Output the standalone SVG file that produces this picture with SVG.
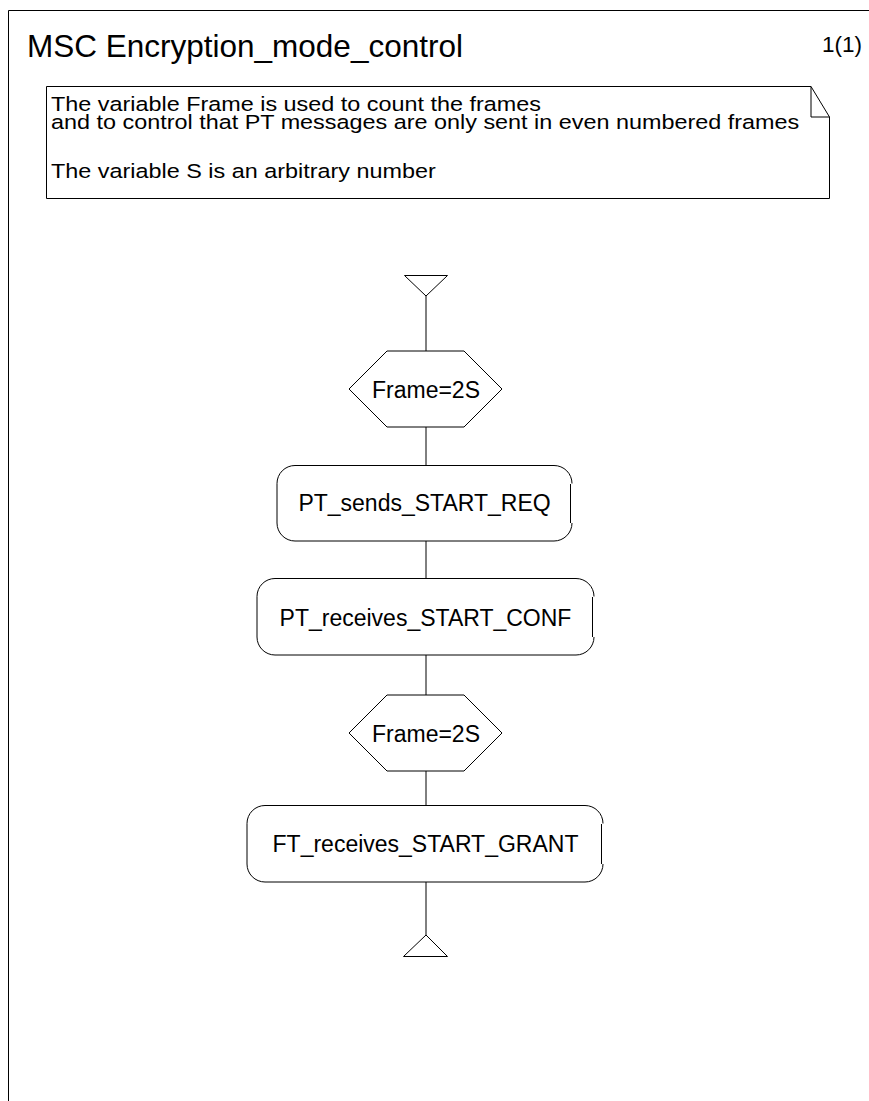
<svg xmlns="http://www.w3.org/2000/svg" width="869" height="1101" viewBox="0 0 869 1101">
<style>
  .ln { fill: none; stroke: #000; stroke-width: 1; }
  .shape { fill: #fff; stroke: #000; stroke-width: 1; }
  .t { font-family: "Liberation Sans", Arial, sans-serif; fill: #000; }
  .note { font-family: "Liberation Sans", Arial, sans-serif; font-size: 23.4px; fill: #000; }
  .lbl { font-family: "Liberation Sans", Arial, sans-serif; font-size: 23px; fill: #000; text-anchor: middle; }
</style>
<rect width="869" height="1101" fill="#fff"/>
<g id="frame">
  <path class="ln" d="M869,10.5 H8.5 V1101" stroke="#555"/>
  <text class="t" x="27" y="57" font-size="31.5">MSC Encryption_mode_control</text>
  <text class="t" x="822" y="52" font-size="22.5">1(1)</text>
</g>
<g id="note">
  <path class="shape" d="M46.5,86.5 H811 L829.5,117 V198.5 H46.5 Z"/>
  <path class="ln" d="M811,86.5 V117 H829.5"/>
  <text class="note" transform="translate(51,111) scale(1,0.84)">The variable Frame is used to count the frames</text>
  <text class="note" transform="translate(51,129) scale(1,0.84)">and to control that PT messages are only sent in even numbered frames</text>
  <text class="note" transform="translate(51,178) scale(1,0.84)">The variable S is an arbitrary number</text>
</g>
<g id="connectors">
  <line class="ln" x1="426" y1="296" x2="426" y2="351"/>
  <line class="ln" x1="426" y1="427" x2="426" y2="465"/>
  <line class="ln" x1="426" y1="541" x2="426" y2="578"/>
  <line class="ln" x1="426" y1="655" x2="426" y2="695"/>
  <line class="ln" x1="426" y1="771" x2="426" y2="805"/>
  <line class="ln" x1="426" y1="882" x2="426" y2="935"/>
</g>
<g id="start">
  <path class="shape" d="M404.5,275.5 H447.5 L426,296 Z"/>
</g>
<g id="cond1">
  <path class="shape" d="M349,389 L387,351 H464 L502,389 L464,427 H387 Z"/>
  <text class="lbl" x="426" y="398">Frame=2S</text>
</g>
<g id="ref1">
  <path class="shape" d="M295,465.5 H554 A18,18 0 0 1 572,483.5 M570.5,484 V523 M572,523 A18,18 0 0 1 554,541 H295 A18,18 0 0 1 277,523 V483.5 A18,18 0 0 1 295,465.5"/>
  <text class="lbl" x="424.5" y="511">PT_sends_START_REQ</text>
</g>
<g id="ref2">
  <path class="shape" d="M275,578.5 H576 A18,18 0 0 1 594,596.5 M592.5,597 V637 M594,637 A18,18 0 0 1 576,655 H275 A18,18 0 0 1 257,637 V596.5 A18,18 0 0 1 275,578.5"/>
  <text class="lbl" x="425.5" y="626">PT_receives_START_CONF</text>
</g>
<g id="cond2">
  <path class="shape" d="M349,733 L387,695 H464 L502,733 L464,771 H387 Z"/>
  <text class="lbl" x="426" y="742">Frame=2S</text>
</g>
<g id="ref3">
  <path class="shape" d="M265,805.5 H585 A18,18 0 0 1 603,823.5 M601.5,824 V864 M603,864 A18,18 0 0 1 585,882 H265 A18,18 0 0 1 247,864 V823.5 A18,18 0 0 1 265,805.5"/>
  <text class="lbl" x="425.5" y="852" font-size="23.4">FT_receives_START_GRANT</text>
</g>
<g id="end">
  <path class="shape" d="M426,935 L447.5,956.5 H403.5 Z"/>
</g>
</svg>
